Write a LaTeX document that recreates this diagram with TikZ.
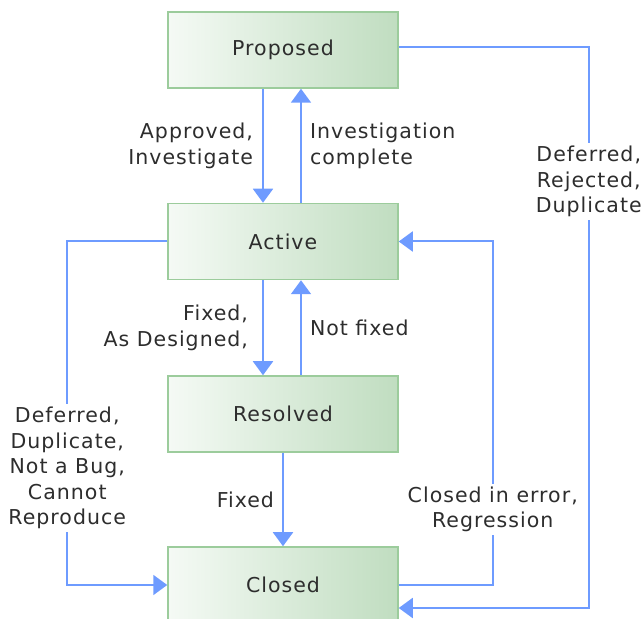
\documentclass[tikz,border=0pt]{standalone}
\usepackage{fontspec}
\setmainfont[LetterSpace=5]{DejaVu Sans}
\usetikzlibrary{arrows.meta}
\definecolor{flc}{RGB}{110,155,255}
\definecolor{boxl}{RGB}{245,250,245}
\definecolor{boxr}{RGB}{192,221,192}
\definecolor{boxe}{RGB}{156,204,156}
\definecolor{txc}{RGB}{45,45,45}

\begin{document}
\begin{tikzpicture}[node distance=172pt, font=\fontsize{20.5}{25.5}\selectfont, text=txc,
  state/.style={rectangle, draw=boxe, line width=1.5pt, left color=boxl, right color=boxr, minimum width=230pt, minimum height=76pt},
  flow/.style={draw=flc, line width=2pt, -{Triangle[width=20pt,length=14pt]}},
  gap/.style={fill=white, align=center, inner sep=3pt}]

    \useasboundingbox (0,0) rectangle (641pt,619pt);

    \node[state] at (283pt,569pt) (prop) {Proposed};
    \node[state, below of=prop, node distance=191.5pt] (act) {Active};
    \node[state, below of=act, node distance=172.5pt] (res) {Resolved};
    \node[state, below of=res, node distance=171pt] (clo) {Closed};

    \draw[flow] ([xshift=-20pt]prop.south) -- node[left, inner sep=9pt, align=right] {Approved,\\Investigate} ([xshift=-20pt]act.north);
    \draw[flow] ([xshift=18pt]act.north) -- node[right, inner sep=8pt, align=left] {Investigation\\complete} ([xshift=18pt]prop.south);
    \draw[flow] ([xshift=-20pt]act.south) -- node[left, inner sep=14pt, align=right] {Fixed,\\As Designed,} ([xshift=-20pt]res.north);
    \draw[flow] ([xshift=18pt]res.north) -- node[right, inner sep=8pt] {Not fixed} ([xshift=18pt]act.south);
    \draw[flow] (res) -- node[left, inner sep=8pt] {Fixed} (clo);

    \draw[flow] (act.west) -- ++(-100pt,0) |- node[gap, pos=0.33] {Deferred,\\Duplicate,\\Not a Bug,\\Cannot\\Reproduce} (clo.west);
    \draw[flow] (clo.east) -- ++(94pt,0) |- node[gap, pos=0.11] {Closed in error,\\Regression} (act.east);
    \draw[flow] ([yshift=3pt]prop.east) -- ++(190pt,0) |- node[gap, pos=0.12] {Deferred,\\Rejected,\\Duplicate} ([yshift=-23pt]clo.east);

  \end{tikzpicture}
\end{document}
